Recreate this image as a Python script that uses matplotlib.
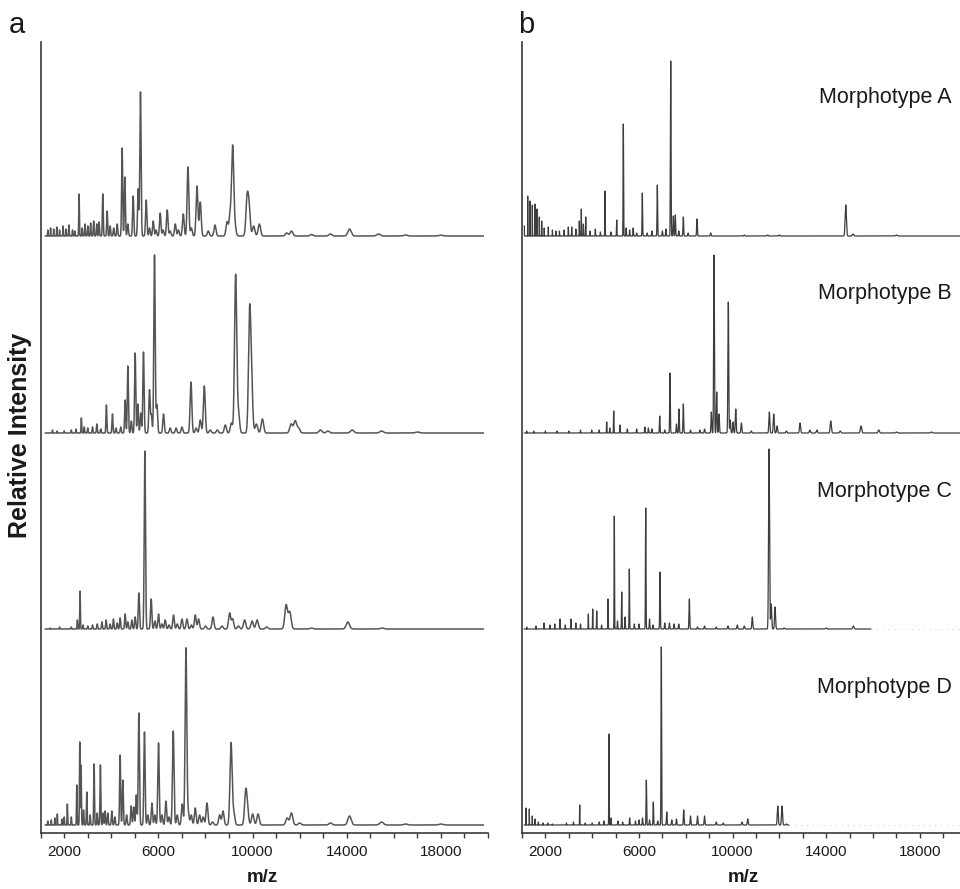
import numpy as np
import matplotlib
matplotlib.use("Agg")
import matplotlib.pyplot as plt

plt.rcParams['font.family'] = ['Liberation Sans', 'DejaVu Sans']

# ---------------- data: peak lists (m/z, relative intensity) ----------------
morphotypes = ["Morphotype A", "Morphotype B", "Morphotype C", "Morphotype D"]

a_A_mz = [1300, 1420, 1550, 1680, 1800, 1950, 2080, 2200, 2350, 2450, 2630, 2760, 2880, 3000, 3120, 3250,
          3380, 3480, 3638, 3821, 3950, 4100, 4250, 4459, 4574, 4700, 4927, 5140, 5238, 5481, 5620, 5779,
          5900, 6077, 6200, 6375, 6500, 6715, 6850, 7056, 7255, 7400, 7638, 7778, 8119, 8404, 8914, 9042,
          9153, 9250, 9765, 9850, 10046, 10289, 11450, 11650, 12500, 13310, 14118, 15352, 16500, 18000]
a_A_int = [6, 8, 7, 9, 6, 10, 7, 11, 6, 5, 42, 8, 12, 10, 13, 15,
           12, 14, 42, 25, 10, 8, 12, 88, 59, 12, 40, 47, 144, 36, 8, 15,
           6, 23, 6, 26, 5, 12, 6, 22, 69, 8, 50, 34, 5, 11, 14, 20,
           89, 10, 36, 28, 10, 12, 3, 5, 1.5, 2, 7, 2, 1, 0.8]

a_B_mz = [1500, 1700, 2000, 2300, 2500, 2728, 2850, 3000, 3200, 3383, 3550, 3791, 4047, 4200, 4400, 4587,
          4702, 4850, 5012, 5127, 5250, 5366, 5621, 5700, 5834, 5936, 6217, 6500, 6750, 7000, 7383, 7600,
          7778, 7949, 8200, 8500, 8842, 9100, 9280, 9400, 9876, 9961, 10161, 10416, 11638, 11808, 11950,
          12884, 13200, 14233, 15480, 17000]
a_B_int = [3, 2, 2, 3, 4, 15, 6, 5, 6, 9, 4, 28, 19, 5, 6, 33,
           67, 12, 80, 29, 20, 81, 43, 18, 178, 28, 19, 5, 5, 6, 51, 5,
           13, 47, 3, 3, 8, 10, 158, 20, 119, 39, 9, 14, 9, 12, 5,
           3, 2, 3, 2, 1]

a_C_mz = [1400, 1800, 2300, 2557, 2672, 2800, 3000, 3200, 3400, 3600, 3778, 3950, 4089, 4250, 4374, 4587,
          4700, 4872, 5012, 5170, 5425, 5693, 5850, 6004, 6150, 6289, 6450, 6642, 6800, 7000, 7212, 7400,
          7565, 7706, 8000, 8319, 8700, 9025, 9153, 9400, 9663, 9978, 10191, 10600, 11425, 11578, 12500,
          14046, 15500]
a_C_int = [1, 2, 2, 9, 38, 4, 3, 4, 5, 7, 9, 5, 10, 6, 11, 15,
           7, 9, 12, 36, 178, 30, 8, 15, 5, 9, 4, 14, 5, 10, 10, 4,
           14, 10, 3, 12, 3, 16, 10, 3, 9, 8, 9, 2, 24, 17, 1,
           7, 1]

a_D_mz = [1300, 1450, 1600, 1706, 1900, 2000, 2132, 2300, 2532, 2660, 2715, 2820, 2957, 3100, 3268, 3400,
          3536, 3650, 3736, 3850, 4021, 4150, 4374, 4489, 4650, 4842, 4950, 5060, 5170, 5408, 5550, 5723,
          5850, 6004, 6150, 6319, 6450, 6630, 6800, 7012, 7170, 7270, 7395, 7565, 7749, 7900, 8063, 8300,
          8600, 8744, 9085, 9200, 9706, 9780, 10004, 10233, 11467, 11650, 12000, 13310, 14118, 15480,
          16500, 18000]
a_D_int = [4, 5, 7, 11, 6, 8, 21, 8, 40, 83, 60, 15, 33, 10, 61, 12,
           60, 12, 14, 12, 14, 8, 70, 45, 10, 19, 18, 30, 112, 93, 10, 22,
           10, 82, 10, 24, 8, 94, 10, 21, 177, 12, 10, 17, 10, 8, 22, 3,
           10, 14, 82, 12, 31, 15, 11, 11, 7, 12, 2, 2, 9, 3,
           1, 1]

b_A_mz = [1100, 1244, 1342, 1442, 1556, 1641, 1741, 1842, 1950, 2124, 2300, 2450, 2600, 2800, 2979, 3124,
          3300, 3449, 3535, 3623, 3723, 3900, 4133, 4350, 4547, 4800, 5047, 5330, 5450, 5600, 5750, 5900,
          6142, 6350, 6550, 6783, 7000, 7150, 7355, 7467, 7552, 7700, 7894, 8100, 8480, 9065, 10500,
          11500, 12000, 14835, 15150, 17000]
b_A_int = [10, 40, 35, 31, 32, 27, 19, 15, 8, 9, 6, 5, 5, 6, 9, 9,
           7, 15, 27, 12, 19, 5, 7, 4, 45, 4, 16, 112, 8, 6, 8, 3,
           43, 3, 5, 51, 5, 7, 175, 20, 21, 5, 19, 3, 17, 3, 1,
           1, 1, 31, 2, 1]

b_B_mz = [1200, 1500, 2000, 2500, 3000, 3500, 3979, 4300, 4620, 4750, 4919, 5188, 5500, 5900, 6250, 6400,
          6550, 6885, 7100, 7325, 7600, 7710, 7894, 8200, 8600, 8800, 9091, 9206, 9321, 9420, 9817, 9900,
          10020, 10134, 10373, 10800, 11570, 11758, 11900, 12300, 12882, 13300, 13600, 14194, 14600, 15489,
          16246, 17000, 18500]
b_B_int = [2, 2, 2, 2, 2, 3, 3, 3, 11, 5, 22, 8, 4, 4, 6, 5,
           4, 17, 3, 60, 9, 24, 29, 3, 3, 4, 21, 178, 41, 19, 131, 13,
           11, 24, 10, 2, 21, 19, 7, 2, 10, 3, 3, 12, 2, 7,
           3, 1, 1]

b_C_mz = [1200, 1600, 1940, 2200, 2400, 2624, 2850, 3094, 3300, 3500, 3835, 4022, 4193, 4400, 4676, 4945,
          5080, 5261, 5400, 5586, 5800, 6000, 6287, 6450, 6600, 6898, 7100, 7300, 7500, 7700, 8151, 8500,
          8800, 9300, 9800, 10200, 10500, 10843, 11557, 11650, 11814, 12200, 14000, 15160]
b_C_int = [2, 3, 6, 4, 5, 10, 4, 10, 6, 5, 15, 20, 18, 4, 30, 113,
           8, 37, 12, 60, 5, 5, 121, 10, 4, 57, 6, 6, 5, 5, 30, 2,
           3, 2, 3, 4, 3, 12, 180, 25, 22, 1, 1, 3]

b_D_mz = [1171, 1313, 1440, 1560, 1700, 1900, 2100, 2300, 2900, 3200, 3466, 3700, 4000, 4300, 4500, 4718,
          4800, 5100, 5300, 5600, 5850, 6000, 6150, 6313, 6450, 6612, 6800, 6954, 7185, 7400, 7600, 7911,
          8200, 8500, 8800, 9300, 9600, 10400, 10647, 11929, 12113, 12300]
b_D_int = [17, 16, 9, 6, 3, 2, 2, 1, 2, 3, 20, 2, 2, 3, 4, 91,
           7, 4, 3, 7, 4, 5, 7, 45, 5, 23, 4, 178, 13, 5, 6, 15,
           9, 9, 9, 3, 2, 3, 6, 19, 19, 1]

panel_a = [(a_A_mz, a_A_int), (a_B_mz, a_B_int), (a_C_mz, a_C_int), (a_D_mz, a_D_int)]
panel_b = [(b_A_mz, b_A_int), (b_B_mz, b_B_int), (b_C_mz, b_C_int), (b_D_mz, b_D_int)]

tick_values = list(range(1000, 20001, 1000))
label_values = [2000, 6000, 10000, 14000, 18000]

# ---------------- figure ----------------
W, H = 960, 889
fig = plt.figure(figsize=(W / 100, H / 100), dpi=100)

offsets = [597, 400, 204, 8]  # stacking of the four spectra


def spectrum(grid, mz, inten, rel_width):
    y = np.zeros_like(grid)
    for m, h in zip(mz, inten):
        s = rel_width * m
        y += h * np.exp(-0.5 * ((grid - m) / s) ** 2)
    return y


def setup_axes(ax, xmax):
    ax.set_xlim(1000, xmax)
    ax.set_ylim(0, 791)
    for side in ("top", "right"):
        ax.spines[side].set_visible(False)
    for side in ("left", "bottom"):
        ax.spines[side].set_color("#3a3a3a")
        ax.spines[side].set_linewidth(1.2)
    ax.set_yticks([])
    ticks = [t for t in tick_values if t <= xmax]
    ax.set_xticks(ticks)
    ax.set_xticklabels([str(t) if t in label_values else "" for t in ticks])
    ax.tick_params(axis="x", direction="out", length=3.5, width=1, color="#3a3a3a",
                   labelsize=11, pad=5, labelcolor="#1a1a1a")


# panel a
ax_a = fig.add_axes([40.7 / W, 56 / H, 447.3 / W, 791 / H])
setup_axes(ax_a, 20000)
grid_a = np.linspace(1200, 19800, 12000)
for (mz, inten), off in zip(panel_a, offsets):
    ax_a.plot(grid_a, off + spectrum(grid_a, mz, inten, 0.0050), color="#555555", lw=1.1)

# panel b
ax_b = fig.add_axes([522 / W, 56 / H, 438 / W, 791 / H])
xmax_b = 1000 + 438 / 23.4 * 1000
setup_axes(ax_b, xmax_b)
ends_b = [19700, 19700, 15900, 12400]
for (mz, inten), off, end in zip(panel_b, offsets, ends_b):
    g = np.linspace(1100, end, 24000)
    ax_b.plot(g, off + spectrum(g, mz, inten, 0.0018), color="#3d3d3d", lw=0.9)
    if end < 19700:
        g2 = np.linspace(end, 19700, 200)
        ax_b.plot(g2, np.full_like(g2, off), color="#bbbbbb", lw=0.6, ls=(0, (1, 6)))

# ---------------- text ----------------
fig.text(9 / W, 1 - 33 / H, "a", fontsize=21, va="baseline", ha="left", color="#1a1a1a")
fig.text(518 / W, 1 - 33 / H, "b", fontsize=21, va="baseline", ha="left", color="#1a1a1a")

label_y = [97, 293, 491, 688]
for name, yy in zip(morphotypes, label_y):
    fig.text(952 / W, 1 - yy / H, name, fontsize=15.5, ha="right", va="center", color="#1a1a1a")

fig.text(20 / W, 1 - 435 / H, "Relative Intensity", rotation=90, fontsize=18, fontweight="bold",
         ha="center", va="center", color="#1a1a1a")
fig.text(262 / W, 1 - 878 / H, "m/z", fontsize=13.5, fontweight="bold", ha="center", va="center",
         color="#1a1a1a")
fig.text(743 / W, 1 - 878 / H, "m/z", fontsize=13.5, fontweight="bold", ha="center", va="center",
         color="#1a1a1a")

fig.savefig("out.png", dpi=100)
